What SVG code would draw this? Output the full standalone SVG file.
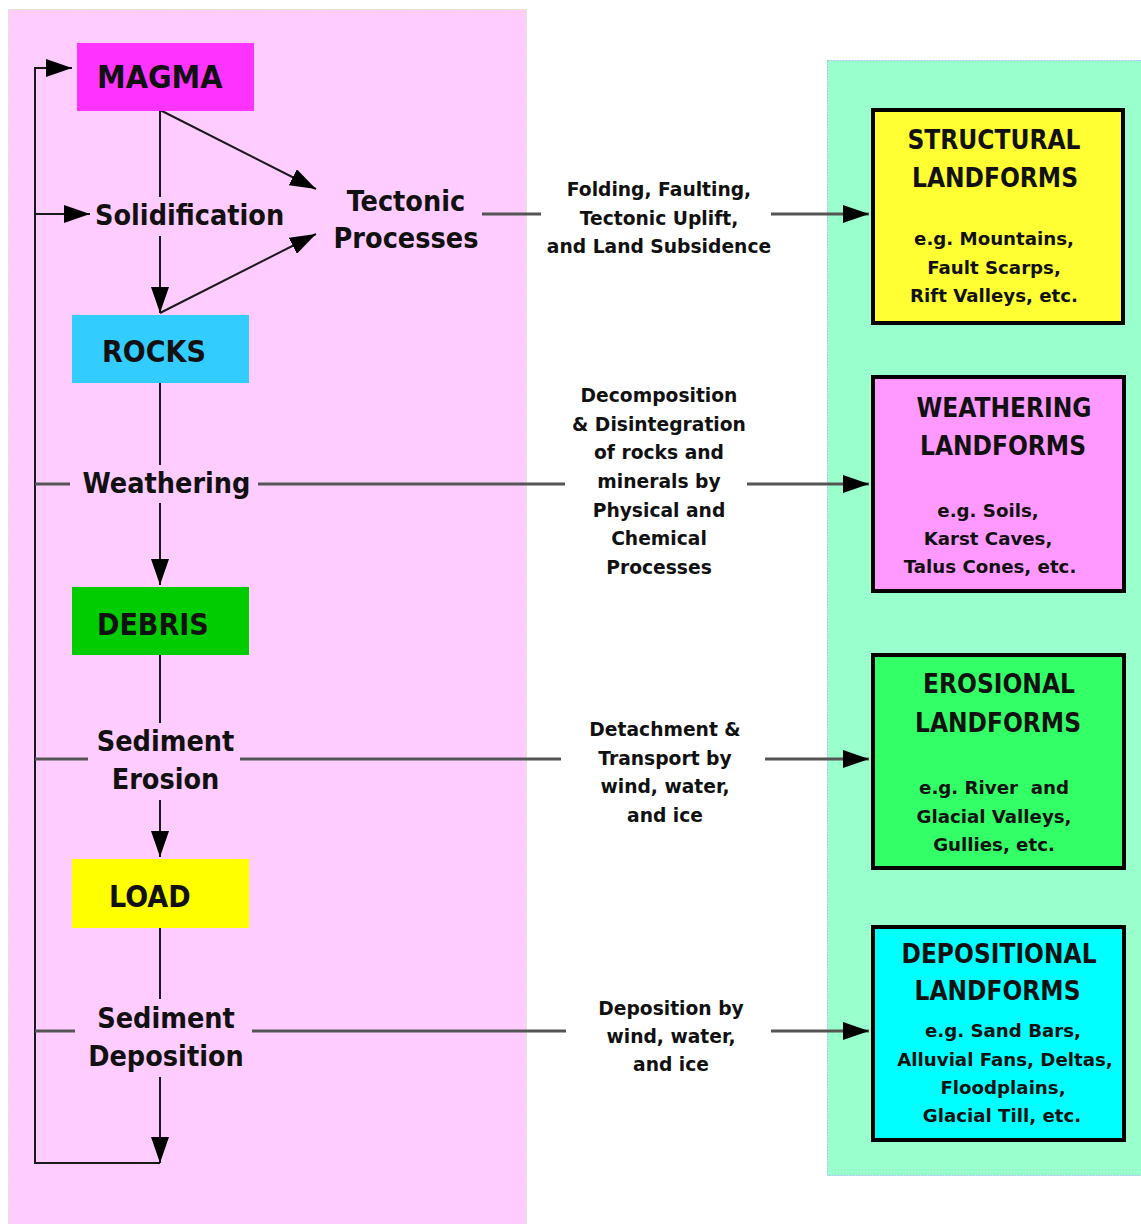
<svg xmlns="http://www.w3.org/2000/svg" width="1141" height="1224" viewBox="0 0 1141 1224">
<defs>
<marker id="ah" viewBox="0 0 26 18" refX="26" refY="9" markerWidth="26" markerHeight="18" markerUnits="userSpaceOnUse" orient="auto">
<path d="M0,0 L26,9 L0,18 z" fill="#000"/>
</marker>
</defs>
<style>
text{fill:#111;font-weight:bold}
.big{font-family:"DejaVu Sans Condensed","DejaVu Sans",sans-serif;font-stretch:condensed;font-size:30px}
.proc{font-family:"DejaVu Sans Condensed","DejaVu Sans",sans-serif;font-stretch:condensed;font-size:28.5px}
.title{font-family:"DejaVu Sans Condensed","DejaVu Sans",sans-serif;font-stretch:condensed;font-size:26px;text-anchor:middle}
.mid{font-family:"DejaVu Sans",sans-serif;font-size:18.7px;text-anchor:middle}
.desc{font-family:"DejaVu Sans",sans-serif;font-size:18.2px;text-anchor:middle}
.c{text-anchor:middle}
.v{fill:none;stroke:#1a1a1a;stroke-width:2}
.h{fill:none;stroke:#555;stroke-width:3}
.lf{stroke:#000;stroke-width:4}
</style>
<rect width="1141" height="1224" fill="#fff"/>
<rect x="8.5" y="9.5" width="518" height="1216" fill="#FFCCFF" stroke="#d6e6b0" stroke-width="1" stroke-dasharray="2,1"/>
<rect x="827.5" y="60.5" width="314" height="1115" fill="#99FFCC" stroke="#9fc6f0" stroke-width="1" stroke-dasharray="2,1"/>

<g id="connectors">
<path class="v" d="M160,1163 H35 V68 H72" marker-end="url(#ah)"/>
<path class="v" d="M35,214 H90" marker-end="url(#ah)"/>
<path class="v" d="M160,110 V197"/>
<path class="v" d="M160,236 V313" marker-end="url(#ah)"/>
<path class="v" d="M160,110 L316,189" marker-end="url(#ah)"/>
<path class="v" d="M160,313 L316,234" marker-end="url(#ah)"/>
<path class="v" d="M160,383 V465"/>
<path class="v" d="M160,503 V585" marker-end="url(#ah)"/>
<path class="v" d="M160,655 V723"/>
<path class="v" d="M160,800 V857" marker-end="url(#ah)"/>
<path class="v" d="M160,928 V999"/>
<path class="v" d="M160,1077 V1163" marker-end="url(#ah)"/>
<path class="h" d="M482,214 H541"/>
<path class="h" d="M771,214 H869" marker-end="url(#ah)"/>
<path class="h" d="M35,484 H70"/>
<path class="h" d="M258,484 H565"/>
<path class="h" d="M747,484 H869" marker-end="url(#ah)"/>
<path class="h" d="M35,759 H88"/>
<path class="h" d="M240,759 H561"/>
<path class="h" d="M765,759 H869" marker-end="url(#ah)"/>
<path class="h" d="M35,1031 H75"/>
<path class="h" d="M252,1031 H566"/>
<path class="h" d="M771,1031 H869" marker-end="url(#ah)"/>
</g>

<g id="magma"><rect x="77" y="43" width="177" height="68" fill="#FF33FF"/><text class="big" x="97" y="88" style="font-size:32px">MAGMA</text></g>
<g id="rocks"><rect x="72" y="315" width="177" height="68" fill="#33CCFF"/><text class="big" x="102" y="362">ROCKS</text></g>
<g id="debris"><rect x="72" y="587" width="177" height="68" fill="#00CC00"/><text class="big" x="97" y="635">DEBRIS</text></g>
<g id="load"><rect x="72" y="859" width="177" height="69" fill="#FFFF00"/><text class="big" x="109" y="907">LOAD</text></g>

<g id="solidification"><text class="proc" x="95" y="225">Solidification</text></g>
<g id="tectonic"><text class="proc c" x="406" y="211">Tectonic</text><text class="proc c" x="406" y="248">Processes</text></g>
<g id="weathering"><text class="proc c" x="166.5" y="493">Weathering</text></g>
<g id="erosion"><text class="proc c" x="165.5" y="751">Sediment</text><text class="proc c" x="165.5" y="789">Erosion</text></g>
<g id="deposition"><text class="proc c" x="166" y="1028">Sediment</text><text class="proc c" x="166" y="1066">Deposition</text></g>

<g id="tectonic-desc"><text class="mid" x="659" y="196">Folding, Faulting,</text><text class="mid" x="659" y="225">Tectonic Uplift,</text><text class="mid" x="659" y="253">and Land Subsidence</text></g>
<g id="weathering-desc">
<text class="mid" x="659" y="402">Decomposition</text>
<text class="mid" x="659" y="431">&amp; Disintegration</text>
<text class="mid" x="659" y="459">of rocks and</text>
<text class="mid" x="659" y="488">minerals by</text>
<text class="mid" x="659" y="517">Physical and</text>
<text class="mid" x="659" y="545">Chemical</text>
<text class="mid" x="659" y="574">Processes</text>
</g>
<g id="erosion-desc"><text class="mid" x="665" y="736">Detachment &amp;</text><text class="mid" x="665" y="765">Transport by</text><text class="mid" x="665" y="793">wind, water,</text><text class="mid" x="665" y="822">and ice</text></g>
<g id="deposition-desc"><text class="mid" x="671" y="1015">Deposition by</text><text class="mid" x="671" y="1043">wind, water,</text><text class="mid" x="671" y="1071">and ice</text></g>

<g id="structural"><rect class="lf" x="873" y="110" width="250" height="213" fill="#FFFF33"/>
<text class="title" x="994" y="149">STRUCTURAL</text><text class="title" x="995" y="187">LANDFORMS</text>
<text class="desc" x="994" y="245">e.g. Mountains,</text><text class="desc" x="994" y="274">Fault Scarps,</text><text class="desc" x="994" y="302">Rift Valleys, etc.</text></g>
<g id="weathering-lf"><rect class="lf" x="873" y="377" width="251" height="214" fill="#FF99FF"/>
<text class="title" x="1004" y="417">WEATHERING</text><text class="title" x="1003" y="455">LANDFORMS</text>
<text class="desc" x="988" y="517">e.g. Soils,</text><text class="desc" x="988" y="545">Karst Caves,</text><text class="desc" x="990" y="573">Talus Cones, etc.</text></g>
<g id="erosional"><rect class="lf" x="873" y="655" width="251" height="213" fill="#33FF66"/>
<text class="title" x="999" y="693">EROSIONAL</text><text class="title" x="998" y="732">LANDFORMS</text>
<text class="desc" x="994" y="794" xml:space="preserve">e.g. River  and</text><text class="desc" x="994" y="823">Glacial Valleys,</text><text class="desc" x="994" y="851">Gullies, etc.</text></g>
<g id="depositional"><rect class="lf" x="873" y="927" width="251" height="213" fill="#00FFFF"/>
<text class="title" x="999" y="963">DEPOSITIONAL</text><text class="title" x="997.5" y="1000">LANDFORMS</text>
<text class="desc" x="1003" y="1037">e.g. Sand Bars,</text><text class="desc" x="1005" y="1066">Alluvial Fans, Deltas,</text><text class="desc" x="1003" y="1094">Floodplains,</text><text class="desc" x="1002" y="1122">Glacial Till, etc.</text></g>
</svg>
